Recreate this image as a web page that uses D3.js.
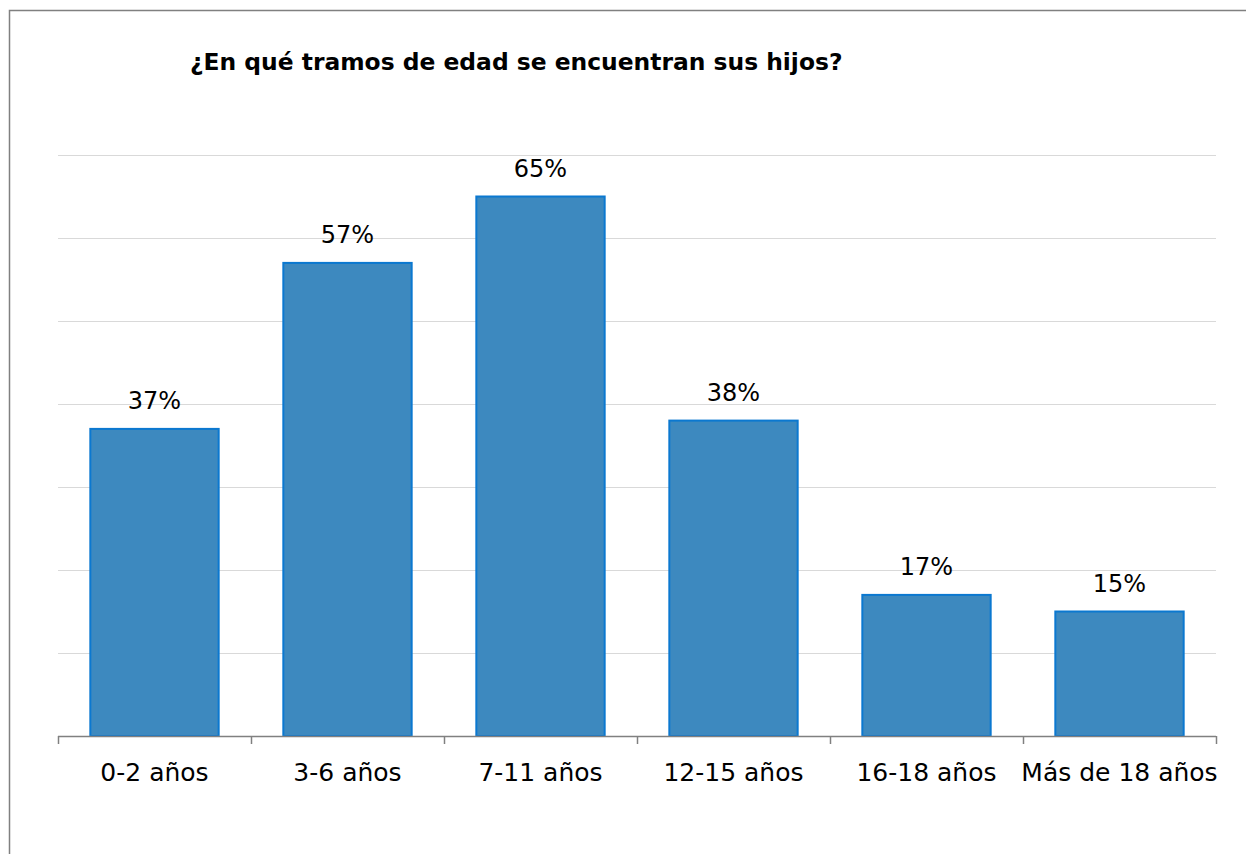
<!DOCTYPE html>
<html><head><meta charset="utf-8">
<script src="https://cdn.jsdelivr.net/npm/d3@7"></script>
<style>body{margin:0;background:#fff}svg{display:block}</style>
</head><body>
<script>
const categories = ["0-2 años","3-6 años","7-11 años","12-15 años","16-18 años","Más de 18 años"];
const values = [37,57,65,38,17,15];
const valueLabels = ["37%","57%","65%","38%","17%","15%"];
const gridTicks = [10,20,30,40,50,60,70];
const title = "¿En qué tramos de edad se encuentran sus hijos?";

const W=1246,H=854;
const svg=d3.select("body").append("svg").attr("width",W).attr("height",H);
svg.append("rect").attr("x",9.5).attr("y",10.5).attr("width",W).attr("height",H).attr("fill","#fff").attr("stroke","#808080").attr("stroke-width",1.5);

const x=d3.scaleBand().domain(categories).range([58,1216]).paddingInner(0.335).paddingOuter(0.1675);
const y=d3.scaleLinear().domain([0,70]).range([736,155]);

svg.append("g").selectAll("line").data(gridTicks).join("line")
 .attr("x1",58).attr("x2",1216).attr("y1",d=>Math.round(y(d))+0.5).attr("y2",d=>Math.round(y(d))+0.5)
 .attr("stroke","#d9d9d9").attr("stroke-width",1);

svg.append("g").selectAll("rect").data(values).join("rect")
 .attr("x",(d,i)=>x(categories[i])).attr("width",x.bandwidth())
 .attr("y",d=>y(d)).attr("height",d=>y(0)-y(d))
 .attr("fill","#3d89bf").attr("stroke","#0b78d0").attr("stroke-width",2);

const ax=svg.append("g").attr("transform","translate(0,736)")
 .call(d3.axisBottom(x).tickSize(0).tickPadding(0).tickFormat(""));
ax.select(".domain").remove();
ax.append("line").attr("x1",58).attr("x2",1216).attr("y1",0.5).attr("y2",0.5).attr("stroke","#808080").attr("stroke-width",1.5);
const step=x.step();
ax.selectAll("line.tk").data(d3.range(categories.length+1)).join("line").attr("class","tk")
 .attr("x1",i=>58+i*step+0.5).attr("x2",i=>58+i*step+0.5).attr("y1",0).attr("y2",8).attr("stroke","#808080").attr("stroke-width",1.5);

svg.append("g").selectAll("text").data(categories).join("text")
 .attr("x",d=>x(d)+x.bandwidth()/2).attr("y",781).attr("text-anchor","middle")
 .attr("font-family","'DejaVu Sans', Verdana, sans-serif").attr("font-size",25).attr("fill","#000")
 .text(d=>d);

svg.append("g").selectAll("text").data(values).join("text")
 .attr("x",(d,i)=>x(categories[i])+x.bandwidth()/2).attr("y",d=>y(d)-20).attr("text-anchor","middle")
 .attr("font-family","'DejaVu Sans', Verdana, sans-serif").attr("font-size",24).attr("fill","#000")
 .text((d,i)=>valueLabels[i]);

svg.append("text").attr("x",190).attr("y",70)
 .attr("font-family","'DejaVu Sans', Verdana, sans-serif").attr("font-weight","bold").attr("font-size",23.4)
 .attr("fill","#000").text(title);
</script>
</body></html>
